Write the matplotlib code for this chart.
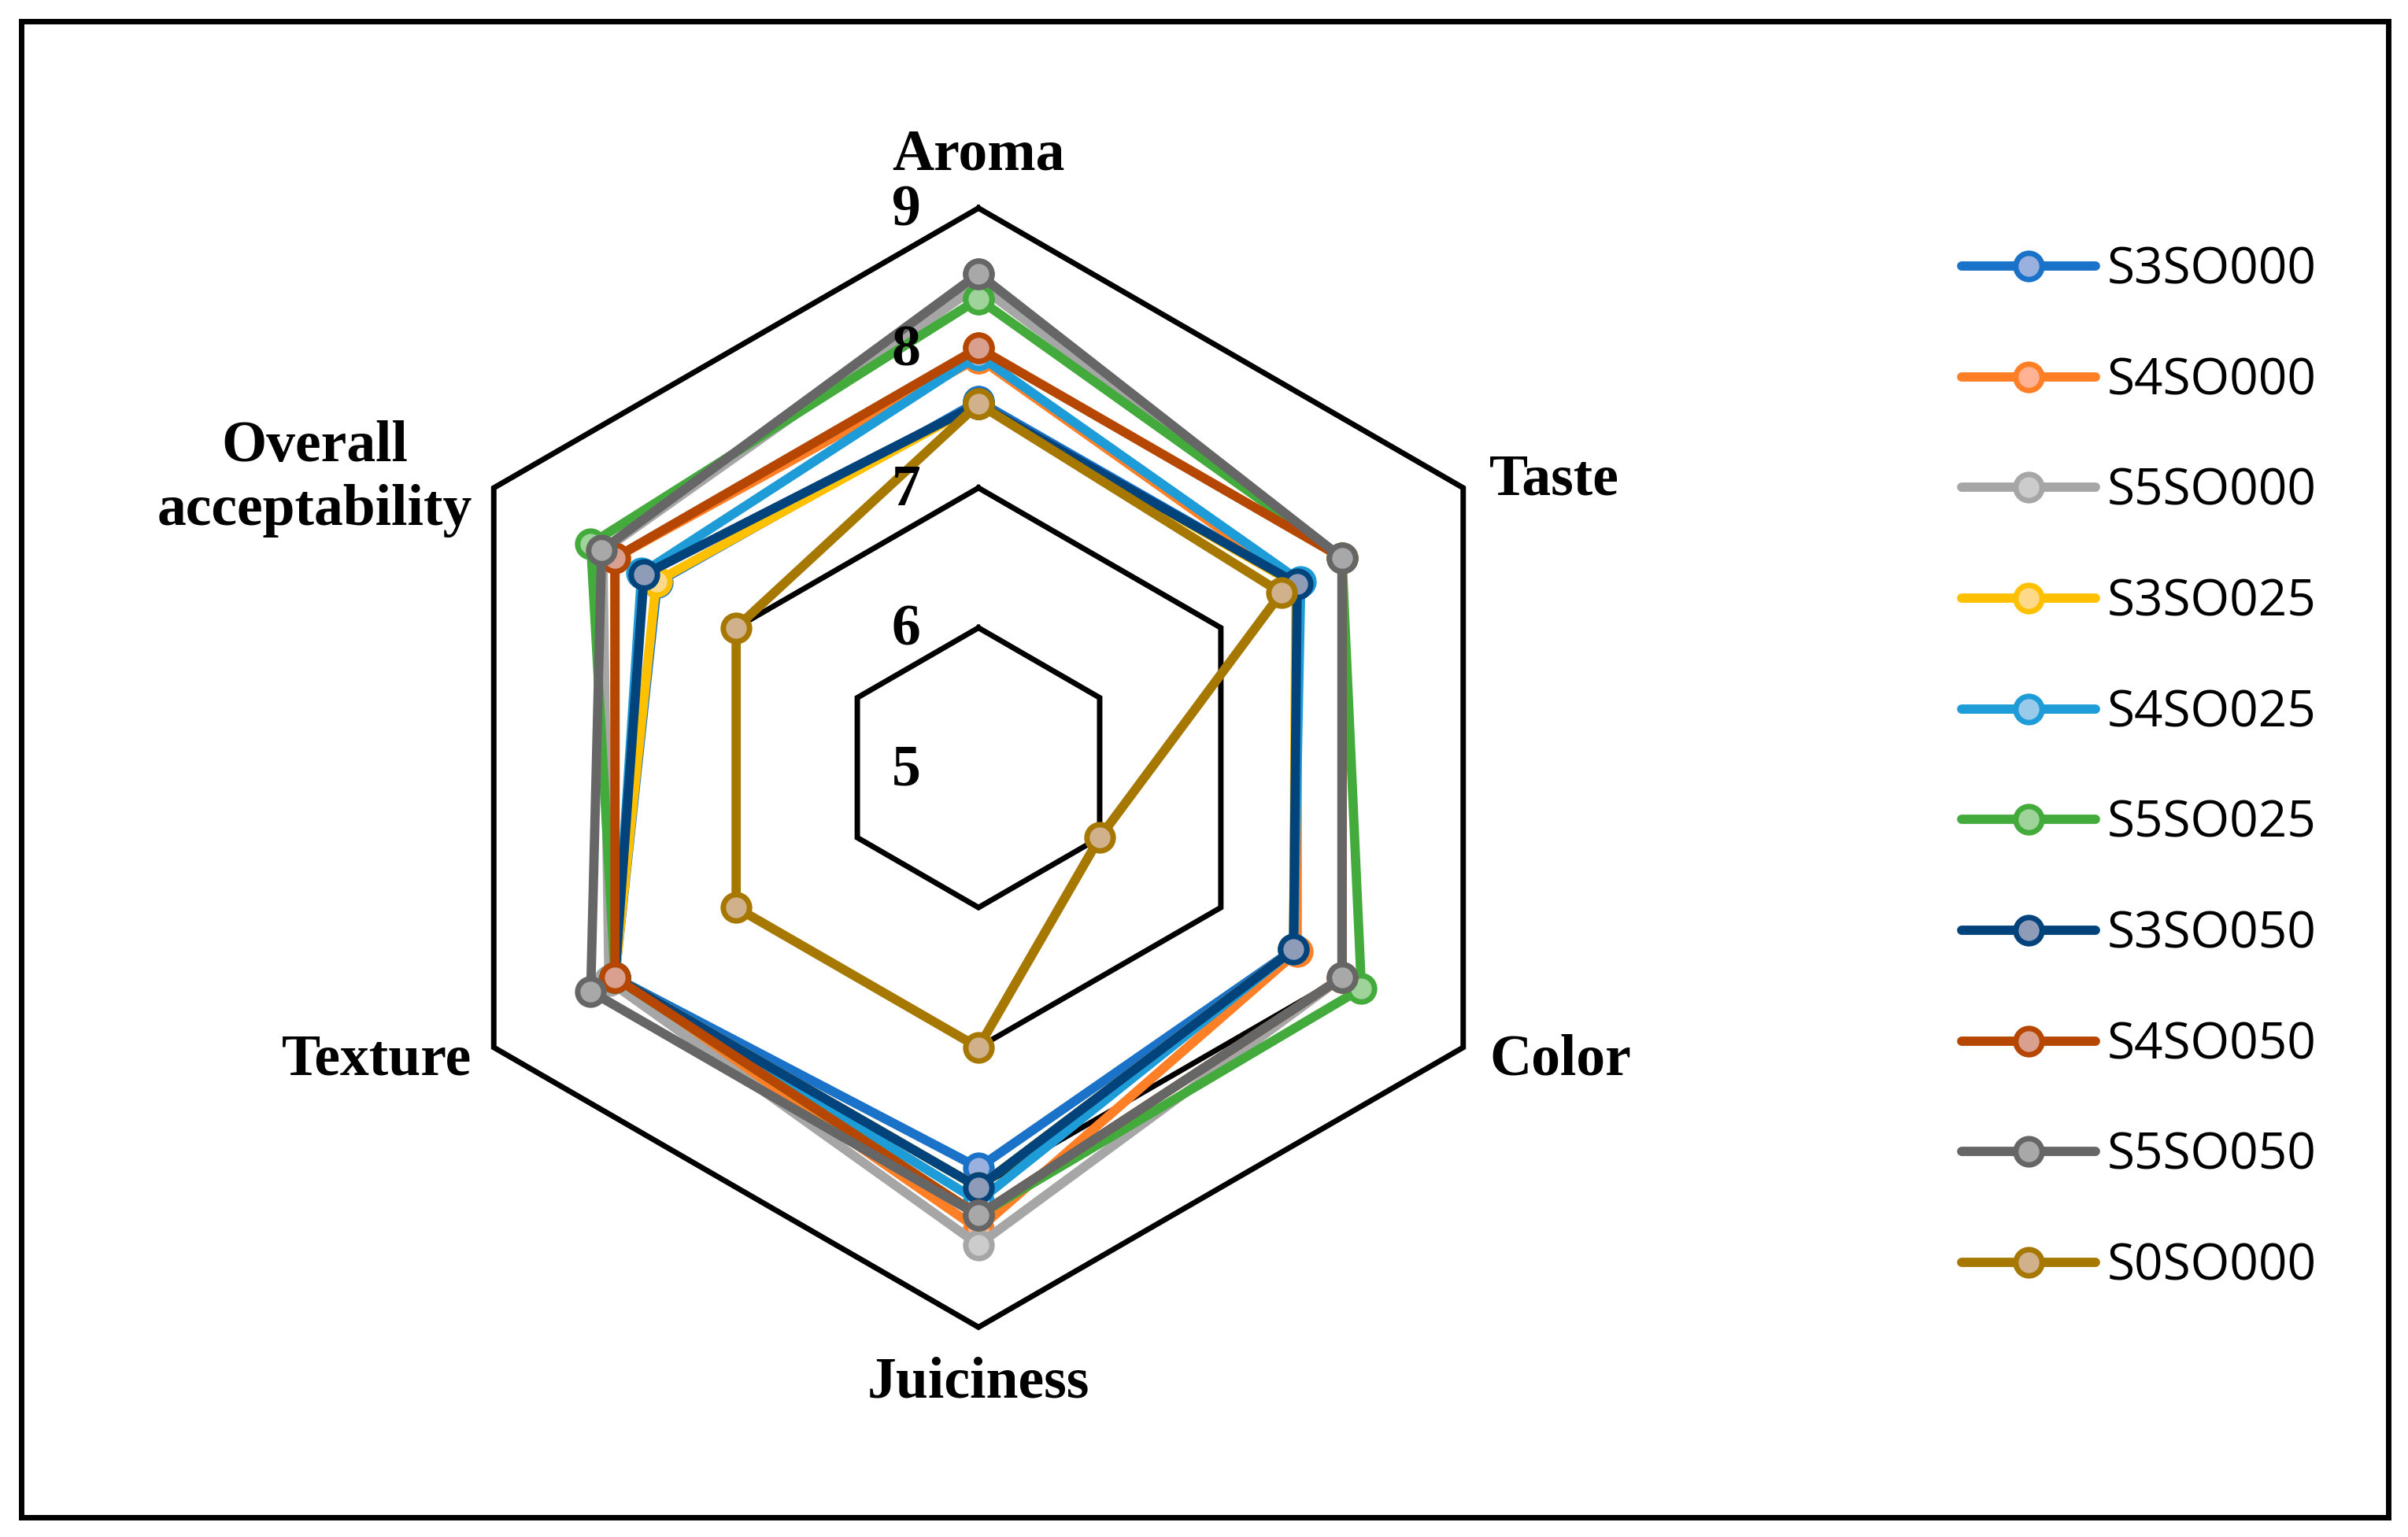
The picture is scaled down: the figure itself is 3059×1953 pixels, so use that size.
import numpy as np
import matplotlib
matplotlib.use("Agg")
import matplotlib.pyplot as plt
from matplotlib.patches import Rectangle
from matplotlib.font_manager import FontProperties

# sensory scores
categories = ["Aroma", "Taste", "Color", "Juiciness", "Texture", "Overall\nacceptability"]
series_names = ["S3SO000", "S4SO000", "S5SO000", "S3SO025", "S4SO025",
                "S5SO025", "S3SO050", "S4SO050", "S5SO050", "S0SO000"]

s3so000 = [7.62, 7.63, 7.60, 7.86, 8.00, 7.65]
s4so000 = [7.93, 7.63, 7.63, 8.30, 8.00, 8.00]
s5so000 = [8.45, 8.00, 8.00, 8.41, 8.05, 8.10]
s3so025 = [7.60, 7.62, 7.60, 8.00, 8.00, 7.66]
s4so025 = [7.95, 7.66, 7.60, 8.10, 8.00, 7.78]
s5so025 = [8.35, 8.00, 8.16, 8.20, 8.00, 8.20]
s3so050 = [7.60, 7.63, 7.60, 8.00, 8.00, 7.76]
s4so050 = [8.00, 8.00, 8.00, 8.20, 8.00, 8.00]
s5so050 = [8.53, 8.00, 8.00, 8.20, 8.20, 8.11]
s0so000 = [7.60, 7.50, 6.00, 7.00, 7.00, 7.00]

ring_values = [6, 7, 8, 9]
tick_values = [5, 6, 7, 8, 9]

line_colors = ["#1a73c8", "#ff7f27", "#a6a6a6", "#ffc000", "#1e9cd8",
               "#43aa3c", "#03437b", "#b54702", "#666666", "#a67800"]
fill_colors = ["#9ab0de", "#ffb394", "#cccccc", "#ffd98a", "#9acaea",
               "#9ed39a", "#8e9cb8", "#d9a090", "#a8a8a8", "#d1b08c"]

all_series = [s3so000, s4so000, s5so000, s3so025, s4so025,
              s5so025, s3so050, s4so050, s5so050, s0so000]

angles = np.linspace(0, 2 * np.pi, len(categories), endpoint=False)
closed = np.append(angles, angles[0])

fig = plt.figure(figsize=(30.59, 19.53), dpi=100)
ax = fig.add_axes([0.1739, 0.1365, 0.4649, 0.7281], projection="polar")
ax.set_theta_zero_location("N")
ax.set_theta_direction(-1)
ax.set_ylim(5, 9)
ax.grid(False)
ax.spines["polar"].set_visible(False)
ax.set_xticks([])
ax.set_yticks([])
ax.patch.set_alpha(0)

# hexagonal grid rings
for v in ring_values:
    ax.plot(closed, [v] * len(closed), color="black", lw=5, zorder=1,
            solid_joinstyle="miter", clip_on=False)

handles = []
for i, (name, vals) in enumerate(zip(series_names, all_series)):
    vv = list(vals) + [vals[0]]
    ln, = ax.plot(closed, vv, color=line_colors[i], lw=8.5, marker="o", ms=24,
                  mfc=fill_colors[i], mec=line_colors[i], mew=5,
                  zorder=2 + i, clip_on=False, label=name,
                  solid_joinstyle="round", solid_capstyle="round")
    handles.append(ln)

serif = dict(family="Liberation Serif", weight="bold", size=53)

# radial value labels (drawn over the data, as in the original)
for v in tick_values:
    ax.annotate(str(v), xy=(0, v), xytext=(-66, -3), textcoords="offset points",
                ha="center", va="center", zorder=30, **serif)

# category labels around the hexagon
offsets = [(0, 48), (24, 7), (24, -12), (0, -51), (-20, -12), (-20, 8)]
aligns = ["center", "left", "left", "center", "right", "right"]
for ang, cat, off, ha in zip(angles, categories, offsets, aligns):
    ax.annotate(cat, xy=(ang, 9), xytext=off, textcoords="offset points",
                ha=ha, va="center", multialignment="center",
                linespacing=1.25, **serif)

fig.legend(handles, series_names, loc="center left",
           bbox_to_anchor=(0.8146, 0.5), frameon=False,
           prop=FontProperties(family="Open Sans", size=46),
           handlelength=2.66, handletextpad=0.24, labelspacing=1.2,
           numpoints=1, borderpad=0, borderaxespad=0)

fig.add_artist(Rectangle((27 / 3059, 25 / 1953), (3034 - 27) / 3059, (1928 - 27) / 1953,
                         transform=fig.transFigure, fill=False, lw=5, ec="black"))

fig.savefig("out.png", dpi=100, facecolor="white")
